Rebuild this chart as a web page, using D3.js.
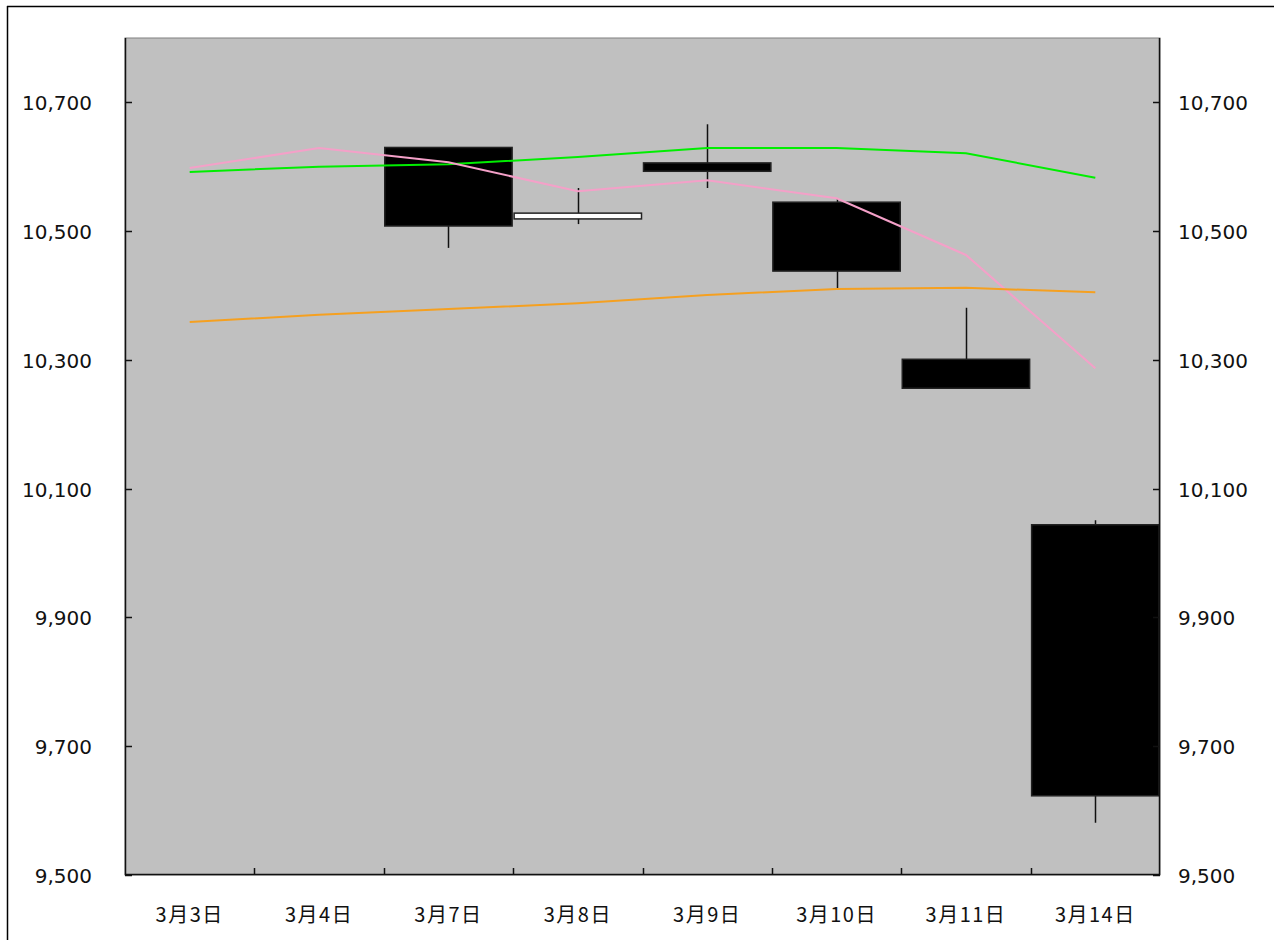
<!DOCTYPE html>
<html>
<head>
<meta charset="utf-8">
<script src="https://cdn.jsdelivr.net/npm/d3@7"></script>
<style>
  body { margin: 0; background: #fff; }
  .ylab { font-family: "DejaVu Sans", sans-serif; font-size: 20px; fill: #111; }
  .xlab { font-family: "Noto Sans CJK JP", sans-serif; font-size: 20px; fill: #111; letter-spacing: 1.5px; }
</style>
</head>
<body>
<div id="chart"></div>
<script>
// categories and OHLC data (null = no candle that day)
var days = ["3月3日", "3月4日", "3月7日", "3月8日", "3月9日", "3月10日", "3月11日", "3月14日"];
var openVals  = [null, null, 10630, 10519, 10606, 10545, 10301, 10044];
var highVals  = [null, null, 10630, 10567, 10666, 10550, 10381, 10051];
var lowVals   = [null, null, 10474, 10511, 10567, 10410, 10256, 9581];
var closeVals = [null, null, 10508, 10528, 10593, 10438, 10256, 9623];

// moving averages
var maGreen  = [10592, 10600, 10604, 10615, 10629, 10629, 10621, 10583];
var maPink   = [10598, 10629, 10607, 10562, 10579, 10551, 10463, 10287];
var maOrange = [10359, 10370, 10379, 10388, 10401, 10410, 10412, 10405];

var yTicks = [9500, 9700, 9900, 10100, 10300, 10500, 10700];

var W = 1274, H = 940;
var margin = { top: 38, right: 114, bottom: 65, left: 125 };
var width = W - margin.left - margin.right,
    height = H - margin.top - margin.bottom;

var svg = d3.select("#chart").append("svg")
    .attr("width", W)
    .attr("height", H);

// outer frame (top and left only are visible)
svg.append("line").attr("x1", 7).attr("y1", 6.5).attr("x2", W).attr("y2", 6.5)
    .attr("stroke", "#000").attr("stroke-width", 1.5);
svg.append("line").attr("x1", 7.5).attr("y1", 6).attr("x2", 7.5).attr("y2", H)
    .attr("stroke", "#000").attr("stroke-width", 1.5);

var g = svg.append("g")
    .attr("transform", "translate(" + margin.left + "," + margin.top + ")");

var x = d3.scaleBand()
    .domain(days)
    .range([0, width])
    .padding(0);

var y = d3.scaleLinear()
    .domain([9500, 10800])
    .range([height, 0]);

// plot background
g.append("rect")
    .attr("width", width)
    .attr("height", height)
    .attr("fill", "#c0c0c0")
    .attr("stroke", "#808080");

// candles
var candles = days.map(function(d, i) {
    return { day: d, o: openVals[i], h: highVals[i], l: lowVals[i], c: closeVals[i] };
}).filter(function(d) { return d.o != null; });

var cx = function(d) { return x(d.day) + x.bandwidth() / 2; };

g.selectAll(".wick")
    .data(candles)
    .enter().append("line")
    .attr("class", "wick")
    .attr("x1", function(d) { return Math.round(cx(d)) + 0.5; })
    .attr("x2", function(d) { return Math.round(cx(d)) + 0.5; })
    .attr("y1", function(d) { return y(d.h); })
    .attr("y2", function(d) { return y(d.l); })
    .attr("stroke", "#111")
    .attr("stroke-width", 1.5);

g.selectAll(".body")
    .data(candles)
    .enter().append("rect")
    .attr("class", "body")
    .attr("x", function(d) { return x(d.day) + 1; })
    .attr("width", function(d) { return Math.min(x.bandwidth() - 2, width - x(d.day) - 1); })
    .attr("y", function(d) { return y(Math.max(d.o, d.c)); })
    .attr("height", function(d) { return Math.max(2, Math.abs(y(d.o) - y(d.c))); })
    .attr("fill", function(d) { return d.c > d.o ? "#fff" : "#000"; })
    .attr("stroke", "#222")
    .attr("stroke-width", 1.5);

// moving average lines
var line = d3.line()
    .x(function(d, i) { return x(days[i]) + x.bandwidth() / 2; })
    .y(function(d) { return y(d); });

[[maGreen, "#00ee00"], [maPink, "#f4a0c8"], [maOrange, "#f5a020"]].forEach(function(s) {
    g.append("path")
        .datum(s[0])
        .attr("d", line)
        .attr("fill", "none")
        .attr("stroke", s[1])
        .attr("stroke-width", 2);
});

// axes lines
g.append("line").attr("x1", 0.5).attr("x2", 0.5).attr("y1", 0).attr("y2", height)
    .attr("stroke", "#111").attr("stroke-width", 1.5);
g.append("line").attr("x1", width - 0.5).attr("x2", width - 0.5).attr("y1", 0).attr("y2", height)
    .attr("stroke", "#111").attr("stroke-width", 1.5);
g.append("line").attr("x1", 0).attr("x2", width).attr("y1", height - 0.5).attr("y2", height - 0.5)
    .attr("stroke", "#111").attr("stroke-width", 1.5);

// y ticks (inward) and labels on both sides
var fmt = d3.format(",");
yTicks.forEach(function(t) {
    var yy = Math.round(y(t)) + 0.5;
    g.append("line").attr("x1", 0).attr("x2", 7).attr("y1", yy).attr("y2", yy)
        .attr("stroke", "#111").attr("stroke-width", 1.5);
    g.append("line").attr("x1", width - 7).attr("x2", width).attr("y1", yy).attr("y2", yy)
        .attr("stroke", "#111").attr("stroke-width", 1.5);
    g.append("text").attr("class", "ylab")
        .attr("x", -33).attr("y", y(t) + 8)
        .attr("text-anchor", "end")
        .text(fmt(t));
    g.append("text").attr("class", "ylab")
        .attr("x", width + 18).attr("y", y(t) + 8)
        .attr("text-anchor", "start")
        .text(fmt(t));
});

// x ticks at band boundaries (upward) and labels
days.slice(1).forEach(function(d) {
    var xx = Math.round(x(d)) + 0.5;
    g.append("line").attr("x1", xx).attr("x2", xx).attr("y1", height - 7).attr("y2", height)
        .attr("stroke", "#111").attr("stroke-width", 1.5);
});

g.selectAll(".xlab")
    .data(days)
    .enter().append("text")
    .attr("class", "xlab")
    .attr("x", function(d) { return x(d) + x.bandwidth() / 2; })
    .attr("y", height + 47)
    .attr("text-anchor", "middle")
    .text(function(d) { return d; });
</script>
</body>
</html>
